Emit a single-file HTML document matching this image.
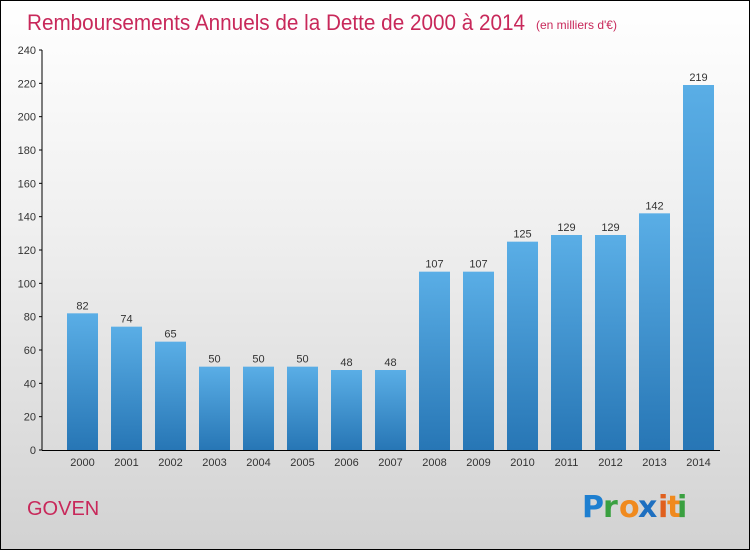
<!DOCTYPE html>
<html><head><meta charset="utf-8"><style>
html,body{margin:0;padding:0}
body{width:750px;height:550px;overflow:hidden;font-family:"Liberation Sans",sans-serif}
#root{position:absolute;left:0;top:0;width:748px;height:548px;border:1px solid #000;background:linear-gradient(#ffffff,#f0f0f0 40%,#d2d2d2)}
</style></head><body>
<div id="root">
<svg width="750" height="550" style="position:absolute;left:-1px;top:-1px" id="svg">
<defs><linearGradient id="bg" x1="0" y1="0" x2="0" y2="1"><stop offset="0" stop-color="#5aaee6"/><stop offset="1" stop-color="#2776b5"/></linearGradient></defs>
<text x="27" y="30" font-size="22" fill="#c8285a" font-family="Liberation Sans, sans-serif" textLength="498" lengthAdjust="spacingAndGlyphs">Remboursements Annuels de la Dette de 2000 à 2014</text>
<text x="536" y="29" font-size="12" fill="#c8285a">(en milliers d'€)</text>
<text x="27" y="515" font-size="20" fill="#c8285a">GOVEN</text>
<g font-size="30" font-family="DejaVu Sans, sans-serif" font-weight="bold">
<text x="582" y="517" fill="#1e7fd0">P</text><text x="603" y="517" fill="#3aa040">r</text><text x="619" y="517" fill="#f08a1e">o</text><text x="638" y="517" fill="#1e6fc0">x</text><text x="658" y="517" fill="#e0601e">i</text><text x="667" y="517" fill="#f08a1e">t</text><text x="677" y="517" fill="#3aa040">i</text>
</g>
<g id="plot"></g>
</svg>
</div>
<script>
const categories=["2000","2001","2002","2003","2004","2005","2006","2007","2008","2009","2010","2011","2012","2013","2014"];
const values=[82,74,65,50,50,50,48,48,107,107,125,129,129,142,219];
const ticks=[0,20,40,60,80,100,120,140,160,180,200,220,240];
const NS="http://www.w3.org/2000/svg";
const g=document.getElementById('plot');
const y=v=>450-v*400/240;
const x=i=>82.5+i*44;
function mk(t,a){const e=document.createElementNS(NS,t);for(const k in a)e.setAttribute(k,a[k]);g.appendChild(e);return e;}
let ax=mk('line',{x1:42,y1:50,x2:42,y2:450,stroke:'#000'});


let bx=mk('line',{x1:42,y1:450.5,x2:720,y2:450.5,stroke:'#000'});


ticks.forEach(t=>{
 let l=mk('line',{x1:39,x2:42,y1:y(t),y2:y(t),stroke:'#000'});
 
 
 let tx=mk('text',{x:36,y:y(t)+4,'text-anchor':'end','font-size':11,fill:'#333'});
 tx.textContent=t;
 
 
});
categories.forEach((c,i)=>{
 const v=values[i];
 let r=mk('rect',{x:x(i)-15.5,y:y(v),width:31,height:450-y(v),fill:'url(#bg)'});
 
 
 let vl=mk('text',{x:x(i),y:y(v)-4,'text-anchor':'middle','font-size':11,fill:'#333'});
 vl.textContent=v;
 
 
 let xl=mk('text',{x:x(i),y:466,'text-anchor':'middle','font-size':11,fill:'#333'});
 xl.textContent=c;
 
 
});
</script>
</body></html>
